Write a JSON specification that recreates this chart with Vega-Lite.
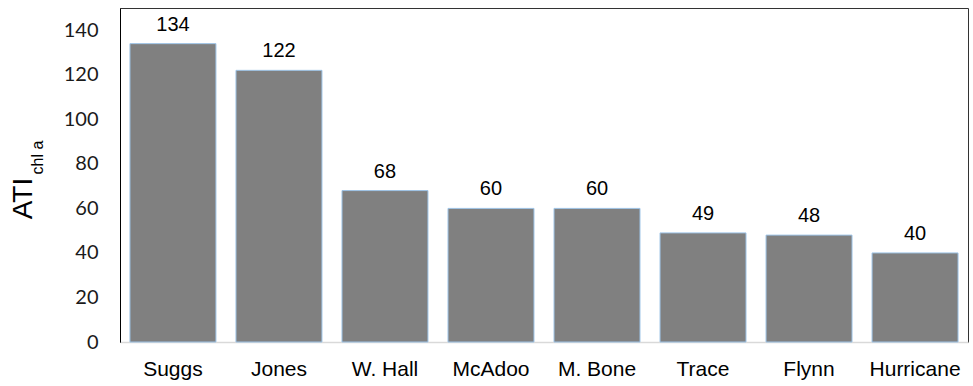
{
  "$schema": "https://vega.github.io/schema/vega-lite/v6.json",
  "width": 848,
  "height": 334,
  "autosize": {"type": "none"},
  "padding": {"left": 120, "top": 8, "right": 5, "bottom": 44},
  "background": "white",
  "config": {
    "view": {"stroke": "#333333", "strokeWidth": 1},
    "font": "Liberation Sans"
  },
  "data": {
    "values": [
      {"site": "Suggs", "ati": 134},
      {"site": "Jones", "ati": 122},
      {"site": "W. Hall", "ati": 68},
      {"site": "McAdoo", "ati": 60},
      {"site": "M. Bone", "ati": 60},
      {"site": "Trace", "ati": 49},
      {"site": "Flynn", "ati": 48},
      {"site": "Hurricane", "ati": 40}
    ]
  },
  "encoding": {
    "x": {
      "field": "site",
      "type": "nominal",
      "sort": null,
      "scale": {"paddingInner": 0.189, "paddingOuter": 0.094},
      "axis": {
        "title": null,
        "labelAngle": 0,
        "labelFont": "Liberation Sans",
        "labelFontSize": 21,
        "labelColor": "#000000",
        "labelPadding": 16,
        "ticks": false,
        "domainColor": "#d9d9d9",
        "domainWidth": 1.5
      }
    }
  },
  "layer": [
    {
      "mark": {"type": "bar", "color": "#808080", "stroke": "#9dc3e6", "strokeWidth": 1},
      "encoding": {
        "y": {
          "field": "ati",
          "type": "quantitative",
          "scale": {"domain": [0, 150], "nice": false},
          "axis": {
            "orient": "left",
            "values": [0, 20, 40, 60, 80, 100, 120, 140],
            "grid": false,
            "ticks": false,
            "domainColor": "#000000",
            "domainWidth": 1,
            "labelFont": "Lato",
            "labelFontSize": 20,
            "labelColor": "#1a1a1a",
            "labelPadding": 22,
            "title": "ATI",
            "titleFont": "Liberation Sans",
            "titleFontSize": 28,
            "titleFontWeight": "normal",
            "titleColor": "#000000",
            "titleAngle": -90,
            "titleAlign": "center",
            "titleBaseline": "alphabetic",
            "titleX": -89,
            "titleY": 190
          }
        }
      }
    },
    {
      "mark": {"type": "text", "baseline": "bottom", "dy": -9, "font": "Liberation Sans", "fontSize": 20, "color": "#000000"},
      "encoding": {
        "y": {
          "field": "ati",
          "type": "quantitative",
          "axis": {
            "orient": "left",
            "labels": false,
            "ticks": false,
            "domain": false,
            "grid": false,
            "title": "chl a",
            "titleFont": "Liberation Sans",
            "titleFontSize": 16,
            "titleFontWeight": "normal",
            "titleColor": "#000000",
            "titleAngle": -90,
            "titleAlign": "center",
            "titleBaseline": "alphabetic",
            "titleX": -78,
            "titleY": 149
          }
        },
        "text": {"field": "ati", "type": "quantitative"}
      }
    }
  ],
  "resolve": {"axis": {"y": "independent"}}
}
